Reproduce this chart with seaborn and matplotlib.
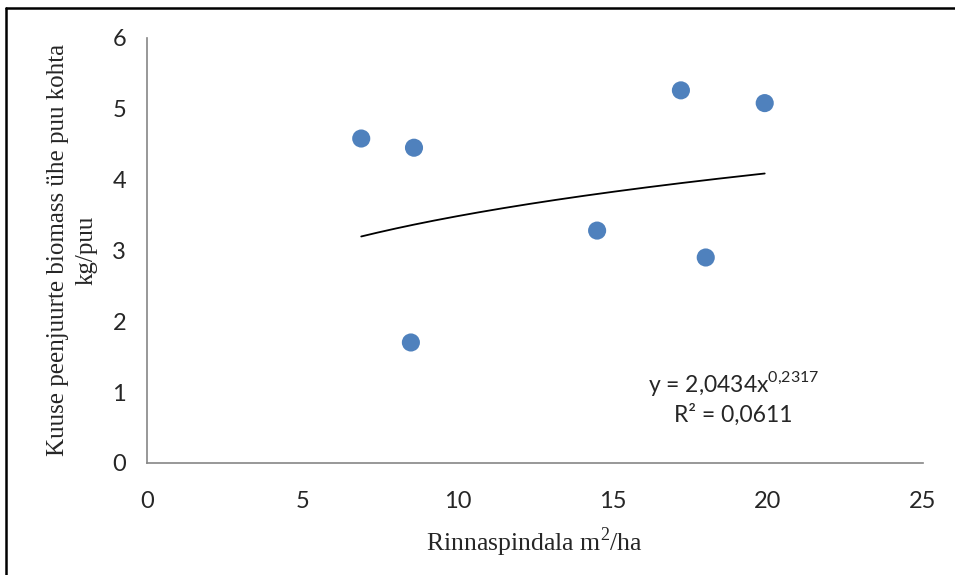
import numpy as np
import matplotlib
matplotlib.use("Agg")
import matplotlib.pyplot as plt
import seaborn as sns
import pandas as pd

# Andmed (loetud jooniselt)
rinnaspindala = [6.9, 8.6, 8.5, 14.5, 17.2, 18.0, 19.9]
biomass = [4.58, 4.45, 1.70, 3.28, 5.26, 2.90, 5.08]

# Astmetrendi kordajad (joonisel näidatud)
trend_a = 2.0434
trend_b = 0.2317
r2_text = "R² = 0,0611"

x_ticks = [0, 5, 10, 15, 20, 25]
y_ticks = [0, 1, 2, 3, 4, 5, 6]

sns.set_style("white")
plt.rcParams["font.family"] = ["Lato", "DejaVu Sans"]
plt.rcParams["mathtext.fontset"] = "custom"
plt.rcParams["mathtext.rm"] = "Liberation Serif"
plt.rcParams["mathtext.sf"] = "Lato"

df = pd.DataFrame({"x": rinnaspindala, "y": biomass})
xs = np.linspace(min(rinnaspindala), max(rinnaspindala), 200)
trend = pd.DataFrame({"x": xs, "y": trend_a * xs ** trend_b})

fig = plt.figure(figsize=(9.55, 5.75), dpi=100)
ax = fig.add_axes([0.154, 0.195, 0.8125, 0.739])

sns.lineplot(data=trend, x="x", y="y", ax=ax, color="black", linewidth=1.3)
sns.scatterplot(data=df, x="x", y="y", ax=ax, color="#4F81BD", s=170,
                edgecolor="none", zorder=3)

ax.set_xlim(0, 25)
ax.set_ylim(0, 6)
ax.set_xticks(x_ticks)
ax.set_yticks(y_ticks)
ax.tick_params(axis="both", direction="out", length=8, width=1.2,
               color="#868686", labelsize=17, pad=7)
ax.tick_params(axis="x", pad=12)
for side in ["top", "right"]:
    ax.spines[side].set_visible(False)
for side in ["left", "bottom"]:
    ax.spines[side].set_color("#868686")
    ax.spines[side].set_linewidth(1.2)
ax.set_xlabel("")
ax.set_ylabel("")

# Telgede nimed (Times-laadne kiri)
fig.text(0.56, 0.057, "Rinnaspindala m$^{2}$/ha", ha="center", va="center",
         family="Liberation Serif", fontsize=18.5)
fig.text(0.076, 0.565, "Kuuse peenjuurte biomass ühe puu kohta\nkg/puu",
         rotation=90, ha="center", va="center", multialignment="center",
         family="Liberation Serif", fontsize=18, linespacing=1.4)

# Trendijoone võrrand
ax.text(18.9, 1.12, r"y = 2,0434x$^{\mathsf{0{,}2317}}$", ha="center",
        va="center", fontsize=16.5)
ax.text(18.9, 0.68, r2_text, ha="center", va="center", fontsize=16.5)

# Raam ümber joonise (vasak ja ülemine serv)
fig.add_artist(plt.Line2D([0.006, 0.006], [0, 0.986], transform=fig.transFigure,
                          color="black", linewidth=1.8))
fig.add_artist(plt.Line2D([0.006, 1.0], [0.986, 0.986], transform=fig.transFigure,
                          color="black", linewidth=1.8))

fig.savefig("out.png", dpi=100, facecolor="white")
